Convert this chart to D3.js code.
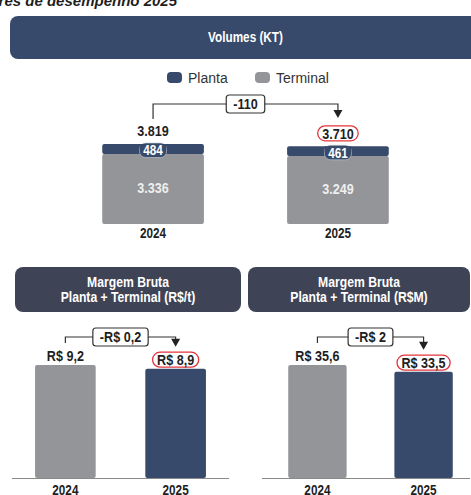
<!DOCTYPE html>
<html lang="pt-BR">
<head>
<meta charset="utf-8">
<script src="https://cdn.jsdelivr.net/npm/d3@7"></script>
<style>
  body { margin: 0; background: #fff; }
  svg { display: block; }
  text { font-family: 'Liberation Sans', Arial, sans-serif; }
</style>
</head>
<body>
<svg id="grafico"></svg>
<script>
// dados do gráfico
const anos = ['2024', '2025'];
const series = ['Planta', 'Terminal'];
const volumePlanta = [484, 461];
const volumeTerminal = [3336, 3249];
const volumeTotal = [3819, 3710];
const margemTonelada = [9.2, 8.9];
const margemMilhoes = [35.6, 33.5];
const variacoes = ['-110', '-R$ 0,2', '-R$ 2'];
const titulos = ['Volumes (KT)', 'Margem Bruta', 'Planta + Terminal (R$/t)', 'Planta + Terminal (R$M)'];

// cores
const azul = '#374a6b';
const cinza = '#939598';
const cabecalho = '#3f4356';
const vermelho = '#e3343c';
const texto = '#1e1e1e';
const aperto = 0.84; // compressão horizontal p/ imitar a fonte condensada

const br = d3.formatLocale({ decimal: ',', thousands: '.', grouping: [3], currency: ['R$ ', ''] });
const formataVolume = br.format(',.0f');
const formataReais = br.format('$.1f');

const svg = d3.select('#grafico').attr('width', 471).attr('height', 495);

// texto negrito condensado, centrado em (x, y)
function condensado(g, x, y, str, tamanho, cor) {
  return g.append('text')
      .attr('transform', `translate(${x}, ${y}) scale(${aperto}, 1)`)
      .attr('dy', '0.35em')
      .attr('text-anchor', 'middle')
      .attr('font-weight', 'bold')
      .attr('font-size', tamanho)
      .attr('fill', cor)
      .text(str);
}

// título cortado no topo
svg.append('text')
    .attr('x', 177).attr('y', 6)
    .attr('text-anchor', 'end')
    .attr('font-weight', 'bold').attr('font-style', 'italic')
    .attr('font-size', 15).attr('fill', texto)
    .text('res de desempenho 2025');

// cabeçalhos
function cabecalhoCaixa(x, y, largura, altura, cor, linhas, tamanho) {
  svg.append('rect')
      .attr('x', x).attr('y', y).attr('width', largura).attr('height', altura)
      .attr('rx', 8).attr('fill', cor);
  const y0 = y + altura / 2 - (linhas.length - 1) * 7.5 - 0.5;
  linhas.forEach((l, i) => condensado(svg, x + largura / 2, y0 + i * 15, l, tamanho, '#fff'));
}
cabecalhoCaixa(10, 16, 471, 43, azul, [titulos[0]], 14);
cabecalhoCaixa(15, 267, 226, 45, cabecalho, [titulos[1], titulos[2]], 14.5);
cabecalhoCaixa(248, 267, 222, 45, cabecalho, [titulos[1], titulos[3]], 14.5);

// legenda
const legenda = svg.append('g').attr('transform', 'translate(167, 72)');
const corSerie = d3.scaleOrdinal().domain(series).range([azul, cinza]);
const posLegenda = d3.scalePoint().domain(series).range([0, 88]);
series.forEach(s => {
  const g = legenda.append('g').attr('transform', `translate(${posLegenda(s)}, 0)`);
  g.append('rect').attr('width', 15).attr('height', 11).attr('rx', 4).attr('fill', corSerie(s));
  g.append('text').attr('x', 21).attr('y', 6).attr('dy', '0.35em')
      .attr('font-size', 14).attr('fill', '#333').text(s);
});

// rótulo de valor (com contorno vermelho no último ano)
function rotuloValor(g, x, y, valor, destaque) {
  const t = condensado(g, x, y, valor, 15, texto);
  if (destaque) {
    const w = t.node().getComputedTextLength() * aperto + 9;
    g.insert('rect', () => t.node())
        .attr('x', x - w / 2).attr('y', y - 7.5).attr('width', w).attr('height', 15)
        .attr('rx', 7.5).attr('fill', '#fff').attr('stroke', vermelho).attr('stroke-width', 1.3);
  }
}

// colchete com a variação entre os anos
function variacao(g, x1, x2, yLinha, yEsq, ySeta, rotulo) {
  g.append('path')
      .attr('d', `M${x1},${yEsq}V${yLinha}H${x2}V${ySeta - 7}`)
      .attr('fill', 'none').attr('stroke', '#333').attr('stroke-width', 1.2);
  g.append('path')
      .attr('d', `M${x2 - 4.5},${ySeta - 8}L${x2 + 4.5},${ySeta - 8}L${x2},${ySeta}Z`)
      .attr('fill', '#222');
  const xm = (x1 + x2) / 2;
  const t = condensado(g, xm, yLinha, rotulo, 15, texto);
  const w = t.node().getComputedTextLength() * aperto + 14;
  g.insert('rect', () => t.node())
      .attr('x', xm - w / 2).attr('y', yLinha - 9).attr('width', w).attr('height', 18)
      .attr('rx', 3).attr('fill', '#fff').attr('stroke', '#333').attr('stroke-width', 1.2);
}

// ---------- volumes (barras empilhadas) ----------
const gv = svg.append('g');
const xv = d3.scaleBand().domain(anos).range([56, 435]).paddingInner(0.45).paddingOuter(0.25);
const yv = d3.scaleLinear().domain([0, d3.max(volumeTotal)]).range([224, 144]);

// terminal embaixo, planta em cima
const camadas = d3.stack().keys(['Terminal', 'Planta'])(anos.map((a, i) => ({ ano: a, Planta: volumePlanta[i], Terminal: volumeTerminal[i] })));

camadas.forEach(camada => {
  gv.selectAll(null).data(camada).enter().append('rect')
      .attr('x', d => xv(d.data.ano))
      .attr('y', d => yv(d[1]))
      .attr('width', xv.bandwidth())
      .attr('height', d => yv(d[0]) - yv(d[1]))
      .attr('rx', 2)
      .attr('fill', corSerie(camada.key));
});

anos.forEach((a, i) => {
  const cx = xv(a) + xv.bandwidth() / 2;
  const topo = yv(volumeTotal[i]);
  // pílula da planta
  gv.append('rect').attr('x', cx - 13.5).attr('y', topo - 1).attr('width', 27).attr('height', 14.5)
      .attr('rx', 6).attr('fill', azul).attr('stroke', '#c9ced8').attr('stroke-width', 0.6);
  gv.append('rect').attr('x', cx - 13.2).attr('y', topo).attr('width', 26.4).attr('height', 6).attr('fill', azul);
  condensado(gv, cx, topo + 6.5, volumePlanta[i], 14, '#fff');
  // terminal
  condensado(gv, cx, (yv(volumeTerminal[i]) + yv(0)) / 2 - 1, formataVolume(volumeTerminal[i]), 15, '#eeeeee');
  // total
  rotuloValor(gv, cx, topo - 13, formataVolume(volumeTotal[i]), i === 1);
  // ano
  condensado(gv, cx, 233, a, 14, texto);
});
{
  const c0 = xv(anos[0]) + xv.bandwidth() / 2, c1 = xv(anos[1]) + xv.bandwidth() / 2;
  variacao(gv, c0, c1, 104, 119, 118, variacoes[0]);
}

// ---------- margens (barras simples) ----------
function graficoMargem(valores, rotulo, faixa, eixo) {
  const g = svg.append('g');
  const x = d3.scaleBand().domain(anos).range(faixa).paddingInner(0.45).paddingOuter(0.2);
  const y = d3.scaleLinear().domain([0, d3.max(valores)]).range([478, 365]);

  g.selectAll('.barra').data(valores).enter().append('rect')
      .classed('barra', true)
      .attr('x', (d, i) => x(anos[i]))
      .attr('y', d => y(d))
      .attr('width', x.bandwidth())
      .attr('height', d => y(0) - y(d))
      .attr('rx', 2)
      .attr('fill', (d, i) => i === 0 ? cinza : azul);

  // linha de base
  g.append('line').attr('x1', eixo[0]).attr('x2', eixo[1]).attr('y1', 478.5).attr('y2', 478.5)
      .attr('stroke', '#8a8a8a').attr('stroke-width', 1.2);

  // eixo x com os anos
  const eixoX = d3.axisBottom(x).tickSize(0).tickPadding(0);
  const ge = g.append('g').attr('transform', 'translate(0, 478)').call(eixoX);
  ge.select('.domain').remove();
  ge.selectAll('text')
      .attr('font-family', null).attr('font-weight', 'bold').attr('font-size', 14)
      .attr('fill', texto).attr('y', 0).attr('dy', '0.35em')
      .attr('transform', `translate(0, 12) scale(${aperto}, 1)`);

  const cx = anos.map(a => x(a) + x.bandwidth() / 2);
  valores.forEach((v, i) => rotuloValor(g, cx[i], y(v) - 9, formataReais(v), i === 1));
  variacao(g, cx[0], cx[1], y(d3.max(valores)) - 28, y(valores[0]) - 22, y(valores[1]) - 22, rotulo);
}
graficoMargem(margemTonelada, variacoes[1], [13, 228], [12, 229]);
graficoMargem(margemMilhoes, variacoes[2], [267, 474], [262, 470]);
</script>
</body>
</html>
